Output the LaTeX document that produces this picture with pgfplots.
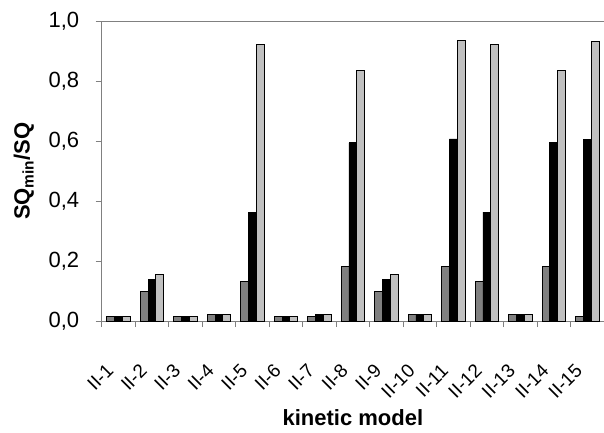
\documentclass[border=0pt]{standalone}
\usepackage{fontspec}
\setmainfont{Liberation Sans}
\usepackage{pgfplots}
\pgfplotsset{compat=1.18}
\definecolor{darkbar}{HTML}{808080}
\definecolor{lightbar}{HTML}{C0C0C0}
\definecolor{axisgray}{HTML}{808080}
\begin{document}
\begin{tikzpicture}
\begin{axis}[name=ax, width=502bp, height=300bp, scale only axis,
  ybar=0pt, bar width=7.8bp,
  xmin=-0.5, xmax=14.5, ymin=0, ymax=1,
  axis x line*=bottom, axis y line*=left,
  axis line style={axisgray, line width=1bp},
  tick style={axisgray, line width=1bp},
  tick align=outside, major tick length=6bp,
  xtick={-0.5,0.5,...,14.5}, xticklabels={},
  extra x ticks={0,...,14},
  extra x tick labels={II-1,II-2,II-3,II-4,II-5,II-6,II-7,II-8,II-9,II-10,II-11,II-12,II-13,II-14,II-15},
  extra x tick style={tick style={draw=none}, major tick length=0pt,
     xticklabel style={xshift=-6bp, yshift=-44bp, rotate=45, anchor=east, font=\fontsize{19bp}{23bp}\selectfont}},
  ytick={0,0.2,...,1.0},
  yticklabel style={xshift=-13bp, font=\fontsize{22bp}{26bp}\selectfont, /pgf/number format/.cd, use comma, fixed, fixed zerofill, precision=1, assume math mode=true},
  xlabel={\textbf{kinetic model}}, ylabel={\textbf{SQ\textsubscript{min}/SQ}},
  every axis x label/.style={at={(rel axis cs:0.5,0)}, anchor=center, yshift=-96bp, font=\fontsize{22bp}{26bp}\selectfont},
  every axis y label/.style={at={(rel axis cs:0,0.5)}, xshift=-78bp, anchor=center, rotate=90, font=\fontsize{22bp}{26bp}\selectfont},
  every axis plot/.append style={draw=black, line width=0.8bp},
  clip=false,
]
\draw[axisgray, line width=1bp] (rel axis cs:0,1) -- (rel axis cs:1,1);
\addplot[fill=darkbar] coordinates {(0,0.015)(1,0.10)(2,0.015)(3,0.022)(4,0.133)(5,0.015)(6,0.015)(7,0.183)(8,0.10)(9,0.022)(10,0.183)(11,0.133)(12,0.022)(13,0.183)(14,0.015)};
\addplot[fill=black] coordinates {(0,0.015)(1,0.139)(2,0.015)(3,0.022)(4,0.363)(5,0.015)(6,0.022)(7,0.594)(8,0.139)(9,0.022)(10,0.607)(11,0.363)(12,0.022)(13,0.596)(14,0.605)};
\addplot[fill=lightbar] coordinates {(0,0.015)(1,0.157)(2,0.015)(3,0.022)(4,0.922)(5,0.015)(6,0.022)(7,0.834)(8,0.157)(9,0.022)(10,0.935)(11,0.922)(12,0.022)(13,0.834)(14,0.932)};
\end{axis}
\pgfresetboundingbox
\useasboundingbox ([xshift=-101.7bp,yshift=-111bp]ax.south west) rectangle ([yshift=21bp]ax.north east);
\end{tikzpicture}
\end{document}
